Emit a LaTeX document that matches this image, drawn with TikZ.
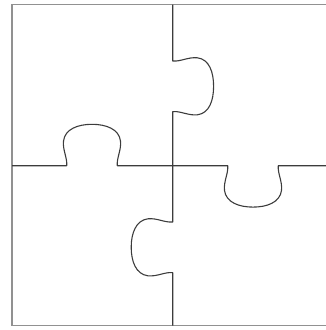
\documentclass[tikz,border=0pt]{standalone}
\usepackage{tikz}
\definecolor{framegray}{RGB}{145,145,145}
\definecolor{cutgray}{RGB}{60,60,60}
\tikzset{
  frameline/.style={line width=1.8pt,framegray},
  cutline/.style={line width=1.1pt,cutgray,line join=round}
}

\begin{document}
\begin{tikzpicture}[x=1pt,y=-1pt]
    \useasboundingbox (0,0) rectangle (326,330);

    \coordinate (tl) at (12,4.5);
    \coordinate (tr) at (326,4.5);
    \coordinate (bl) at (12,325.5);
    \coordinate (br) at (326,325.5);

    \coordinate (mt) at (172.7,4.5);
    \coordinate (mb) at (172.7,325.5);
    \coordinate (ml) at (12,165.7);
    \coordinate (mr) at (326,165.7);
    \coordinate (c) at (172.7,165.7);

    % outer frame (right side is cut off)
    \draw[frameline] (tr) -- (tl) -- (bl) -- (br);

    % horizontal cut: tab up on the left, slot down on the right
    \draw[cutline] (ml) -- (66.7,165.7)
        .. controls (67.5,158) and (62.5,150) .. (63.5,141)
        .. controls (65,129) and (78,124.3) .. (92,124.3)
        .. controls (106,124.3) and (119,129) .. (120.5,141)
        .. controls (121.5,150) and (116.5,158) .. (117.3,165.7)
        -- (c) -- (227.7,165.7)
        .. controls (228.5,173.4) and (223.5,181.4) .. (224.5,190.4)
        .. controls (226,202.4) and (239,207.1) .. (253,207.1)
        .. controls (267,207.1) and (280,202.4) .. (281.5,190.4)
        .. controls (282.5,181.4) and (277.5,173.4) .. (278.3,165.7)
        -- (mr);

    % vertical cut: tab right on top, tab left below
    \draw[cutline] (mt) -- (172.7,61)
        .. controls (180.4,61.8) and (188.4,56.8) .. (197.4,57.8)
        .. controls (209.4,59.3) and (213.6,72.3) .. (213.6,86.3)
        .. controls (213.6,100.3) and (209.4,113.3) .. (197.4,114.8)
        .. controls (188.4,115.8) and (180.4,110.8) .. (172.7,111.6)
        -- (c) -- (172.7,222)
        .. controls (164.9,222.8) and (156.9,217.8) .. (147.9,218.8)
        .. controls (135.9,220.3) and (131.2,233.3) .. (131.2,247.3)
        .. controls (131.2,261.3) and (135.9,274.3) .. (147.9,275.8)
        .. controls (156.9,276.8) and (164.9,271.8) .. (172.7,272.6)
        -- (mb);
\end{tikzpicture}
\end{document}
